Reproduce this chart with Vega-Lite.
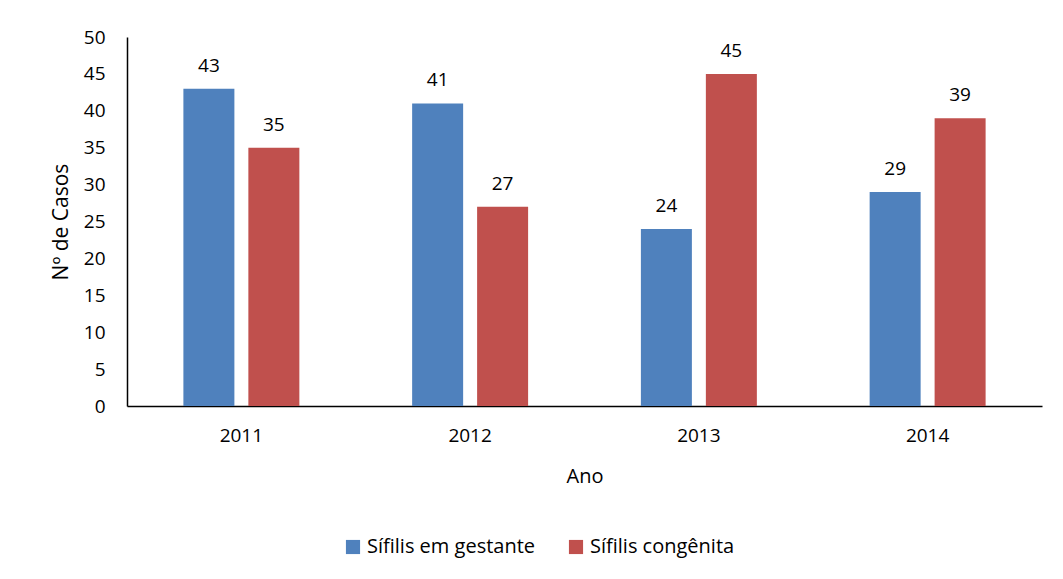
{
  "$schema": "https://vega.github.io/schema/vega-lite/v6.json",
  "autosize": {"type": "none"},
  "width": 915,
  "height": 369,
  "padding": {"left": 127, "top": 37, "right": 21, "bottom": 173},
  "background": "white",
  "config": {
    "view": {"stroke": null},
    "font": "Open Sans"
  },
  "data": {
    "values": [
      {"ano": "2011", "serie": "Sífilis em gestante", "casos": 43},
      {"ano": "2011", "serie": "Sífilis congênita", "casos": 35},
      {"ano": "2012", "serie": "Sífilis em gestante", "casos": 41},
      {"ano": "2012", "serie": "Sífilis congênita", "casos": 27},
      {"ano": "2013", "serie": "Sífilis em gestante", "casos": 24},
      {"ano": "2013", "serie": "Sífilis congênita", "casos": 45},
      {"ano": "2014", "serie": "Sífilis em gestante", "casos": 29},
      {"ano": "2014", "serie": "Sífilis congênita", "casos": 39}
    ]
  },
  "encoding": {
    "x": {
      "field": "ano", "type": "nominal",
      "scale": {"paddingInner": 0.493, "paddingOuter": 0.2465},
      "axis": {
        "title": "Ano", "labelAngle": 0, "ticks": false,
        "domainColor": "#000000", "domainWidth": 1.5,
        "labelFontSize": 19, "labelColor": "#000000", "labelPadding": 20,
        "titleFontSize": 20, "titleFontWeight": "normal", "titleColor": "#000000", "titlePadding": 21
      }
    },
    "xOffset": {
      "field": "serie", "type": "nominal",
      "sort": ["Sífilis em gestante", "Sífilis congênita"],
      "scale": {"paddingInner": 0.215, "paddingOuter": 0}
    },
    "y": {
      "field": "casos", "type": "quantitative",
      "scale": {"domain": [0, 50]},
      "axis": {
        "title": "Nº de Casos", "values": [0,5,10,15,20,25,30,35,40,45,50],
        "grid": false, "ticks": false,
        "domainColor": "#000000", "domainWidth": 1.5,
        "labelFontSize": 19, "labelColor": "#000000", "labelPadding": 22,
        "titleFontSize": 21, "titleFontWeight": "normal", "titleColor": "#000000", "titlePadding": 12
      }
    }
  },
  "layer": [
    {
      "mark": {"type": "bar"},
      "encoding": {
        "color": {
          "field": "serie", "type": "nominal",
          "sort": ["Sífilis em gestante", "Sífilis congênita"],
          "scale": {"domain": ["Sífilis em gestante", "Sífilis congênita"], "range": ["#4F81BD", "#C0504D"]},
          "legend": {
            "title": null, "orient": "none", "direction": "horizontal",
            "legendX": 216, "legendY": 500,
            "symbolType": "square", "symbolSize": 200, "symbolStrokeWidth": 0,
            "labelFontSize": 20, "labelColor": "#000000", "labelLimit": 400,
            "columnPadding": 30, "labelOffset": 4
          }
        }
      }
    },
    {
      "mark": {"type": "text", "baseline": "bottom", "dy": -13, "fontSize": 19, "color": "#000000"},
      "encoding": {"text": {"field": "casos", "type": "quantitative"}}
    }
  ]
}
